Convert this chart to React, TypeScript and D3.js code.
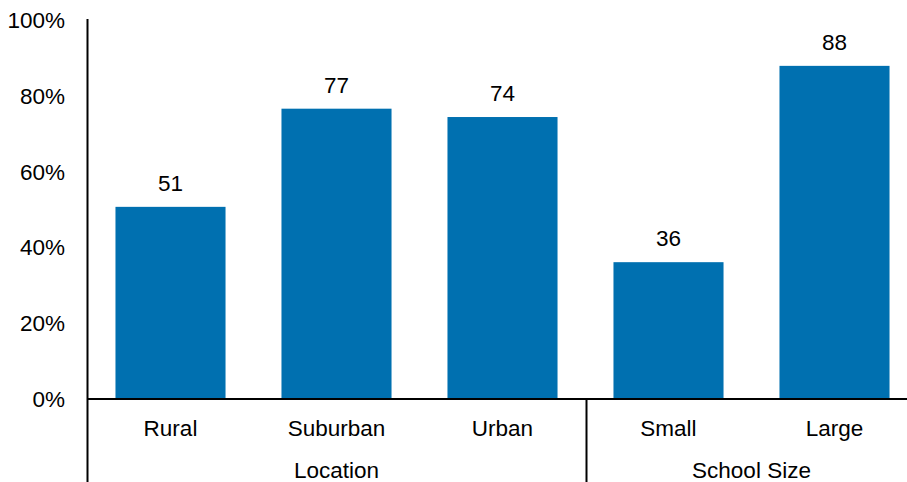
import React from "react";
import * as d3 from "d3";

const categories = ["Rural", "Suburban", "Urban", "Small", "Large"];
const values = [50.7, 76.6, 74.4, 36.1, 87.9];
const groups = [
  { name: "Location", start: 0, end: 3 },
  { name: "School Size", start: 3, end: 5 },
];
const yTicks = [0, 20, 40, 60, 80, 100];

export default function App() {
  const W = 907, H = 482;
  const x0 = 87.5, band = 166;
  const x = d3.scaleBand<string>().domain(categories).range([x0, x0 + band * categories.length]).paddingInner(0.337).paddingOuter(0.1685);
  const y = d3.scaleLinear().domain([0, 100]).range([399, 20]);
  const font = "'Liberation Sans', Arial, sans-serif";
  const fs = 22.5;
  const fmt = d3.format(".0f");
  return (
    <svg width={W} height={H} style={{ position: "absolute", left: 0, top: 0 }} fontFamily={font}>
      <rect width={W} height={H} fill="#fff" />
      {categories.map((c, i) => (
        <g key={c}>
          <rect x={x(c)} y={y(values[i])} width={x.bandwidth()} height={y(0) - y(values[i])} fill="#0070B0" />
          <text x={x(c)! + x.bandwidth() / 2} y={y(values[i]) - 16} textAnchor="middle" fontSize={fs} fill="#000">{fmt(values[i])}</text>
          <text x={x(c)! + x.bandwidth() / 2} y={436} textAnchor="middle" fontSize={fs} fill="#000">{c}</text>
        </g>
      ))}
      {yTicks.map((t) => (
        <text key={t} x={65} y={y(t) + 8} textAnchor="end" fontSize={fs} fill="#000">{t}%</text>
      ))}
      <line x1={87.5} x2={87.5} y1={19} y2={H} stroke="#000" strokeWidth={2} />
      <line x1={87.5} x2={W} y1={399} y2={399} stroke="#000" strokeWidth={2} />
      {groups.slice(1).map((g) => (
        <line key={g.name} x1={x0 + band * g.start + 1} x2={x0 + band * g.start + 1} y1={399} y2={H} stroke="#000" strokeWidth={2} />
      ))}
      {groups.map((g) => (
        <text key={g.name} x={x0 + band * (g.start + g.end) / 2} y={478} textAnchor="middle" fontSize={fs} fill="#000">{g.name}</text>
      ))}
    </svg>
  );
}
